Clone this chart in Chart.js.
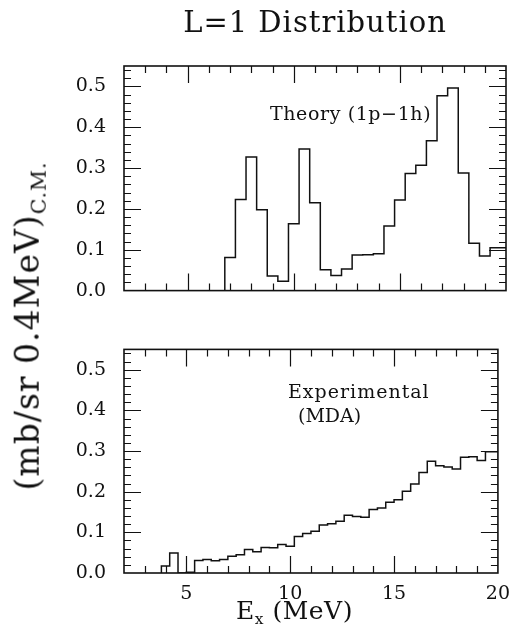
<!DOCTYPE html>
<html>
<head>
<meta charset="utf-8">
<script src="https://cdn.jsdelivr.net/npm/chart.js@4.4.0/dist/chart.umd.min.js"></script>
<style>
  body { margin: 0; background: #fff; }
  #wrap { position: relative; width: 520px; height: 630px; font-family: "DejaVu Serif", serif; color: #111; }
  .panel { position: absolute; left: 0; width: 520px; }
  .lbl { position: absolute; white-space: nowrap; line-height: 1; }
  #title { left: 0; width: 630px; text-align: center; top: 8px; font-size: 29px; letter-spacing: 1px; }
  #ytitle { left: 30px; top: 326px; font-size: 33px; letter-spacing: 1px; transform: translate(-50%, -50%) rotate(-90deg); }
  #xtitle { left: 236px; top: 598px; font-size: 25px; letter-spacing: 0.5px; }
  sub { font-size: 62%; vertical-align: -0.35em; }
  .note { font-size: 19px; }
</style>
</head>
<body>
<div id="wrap">
  <div class="panel" style="top:0;height:320px"><canvas id="theoryChart" width="520" height="320"></canvas></div>
  <div class="panel" style="top:320px;height:310px"><canvas id="expChart" width="520" height="310"></canvas></div>
  <div class="lbl" id="title">L=1 Distribution</div>
  <div class="lbl" id="ytitle">(mb/sr 0.4MeV)<sub>C.M.</sub></div>
  <div class="lbl" id="xtitle">E<sub>x</sub> (MeV)</div>
  <div class="lbl note" style="left:270px;top:104px;letter-spacing:0.6px">Theory (1p&minus;1h)</div>
  <div class="lbl note" style="left:288px;top:382px;letter-spacing:1px">Experimental</div>
  <div class="lbl note" style="left:298px;top:406px">(MDA)</div>
</div>
<script>
// theory: 0.5 MeV bins, listed by bin centre
const theoryWidth = 0.5;
const theoryCenters = [7.0, 7.5, 8.0, 8.5, 9.0, 9.5, 10.0, 10.5, 11.0, 11.5, 12.0, 12.5, 13.0, 13.5,
  14.0, 14.5, 15.0, 15.5, 16.0, 16.5, 17.0, 17.5, 18.0, 18.5, 19.0, 19.5, 20.0];
const theoryValues = [0.012, 0.081, 0.223, 0.327, 0.198, 0.036, 0.023, 0.164, 0.347, 0.215, 0.051, 0.037, 0.053, 0.087,
  0.088, 0.090, 0.158, 0.222, 0.287, 0.307, 0.367, 0.477, 0.496, 0.288, 0.116, 0.085, 0.105];

// experiment (MDA): 0.4 MeV bins
const expWidth = 0.4;
const expCenters = [4.0, 4.4, 4.8, 5.2, 5.6, 6.0, 6.4, 6.8, 7.2, 7.6, 8.0, 8.4, 8.8, 9.2, 9.6, 10.0, 10.4,
  10.8, 11.2, 11.6, 12.0, 12.4, 12.8, 13.2, 13.6, 14.0, 14.4, 14.8, 15.2, 15.6, 16.0, 16.4, 16.8,
  17.2, 17.6, 18.0, 18.4, 18.8, 19.2, 19.6, 20.0];
const expValues = [0.004, 0.017, 0.049, 0.0, 0.002, 0.031, 0.033, 0.030, 0.033, 0.041, 0.045, 0.058, 0.052, 0.063, 0.062, 0.070, 0.066,
  0.090, 0.097, 0.103, 0.118, 0.121, 0.127, 0.142, 0.139, 0.137, 0.156, 0.160, 0.174, 0.180, 0.201, 0.219, 0.247,
  0.275, 0.264, 0.261, 0.256, 0.285, 0.286, 0.277, 0.298];

const xTicks = [5, 10, 15, 20];
const yTicks = [0.0, 0.1, 0.2, 0.3, 0.4, 0.5];

// turn bin centres + heights into step points (left edges, closing right edge)
function stepPoints(centers, values, width) {
  const pts = [{ x: centers[0] - width / 2, y: 0 }];
  centers.forEach((c, i) => pts.push({ x: c - width / 2, y: values[i] }));
  const last = centers.length - 1;
  pts.push({ x: centers[last] + width / 2, y: values[last] });
  return pts;
}

// box frame with inward ticks on all four sides
const frameTicks = {
  id: 'frameTicks',
  afterDatasetsDraw(chart) {
    const { ctx, chartArea: a, scales: { x, y } } = chart;
    ctx.save();
    ctx.strokeStyle = '#111';
    ctx.lineWidth = 1.6;
    ctx.strokeRect(a.left, a.top, a.right - a.left, a.bottom - a.top);
    ctx.lineWidth = 1.2;
    ctx.beginPath();
    for (let v = Math.floor(x.min) + 1; v < x.max; v++) {
      const px = Math.round(x.getPixelForValue(v)) + 0.5;
      const len = v % 5 === 0 ? 17 : 7;
      ctx.moveTo(px, a.bottom); ctx.lineTo(px, a.bottom - len);
      ctx.moveTo(px, a.top); ctx.lineTo(px, a.top + len);
    }
    for (let k = 1; k * 0.02 < y.max - 0.001; k++) {
      const py = Math.round(y.getPixelForValue(k * 0.02)) + 0.5;
      const len = k % 5 === 0 ? 17 : 7;
      ctx.moveTo(a.left, py); ctx.lineTo(a.left + len, py);
      ctx.moveTo(a.right, py); ctx.lineTo(a.right - len, py);
    }
    ctx.stroke();
    ctx.restore();
  }
};

function makePanel(id, centers, values, width, showX, padding) {
  return new Chart(document.getElementById(id), {
    type: 'line',
    data: {
      datasets: [{
        data: stepPoints(centers, values, width),
        stepped: 'after',
        borderColor: '#111',
        borderWidth: 1.5,
        pointRadius: 0,
        fill: false
      }]
    },
    options: {
      responsive: false,
      animation: false,
      layout: { padding: padding },
      plugins: { legend: { display: false }, tooltip: { enabled: false }, title: { display: false } },
      scales: {
        x: {
          type: 'linear', min: 2, max: 20,
          grid: { display: false, drawTicks: false },
          border: { display: false },
          afterBuildTicks: s => { s.ticks = xTicks.map(v => ({ value: v })); },
          afterFit: s => { s.height = showX ? 30 : 0; },
          ticks: {
            display: showX, padding: 10, color: '#111', maxRotation: 0,
            font: { family: 'DejaVu Serif', size: 19 }
          }
        },
        y: {
          min: 0, max: 0.55,
          grid: { display: false, drawTicks: false },
          border: { display: false },
          afterBuildTicks: s => { s.ticks = yTicks.map(v => ({ value: v })); },
          afterFit: s => { s.width = 70; },
          ticks: {
            padding: 18, color: '#111',
            font: { family: 'DejaVu Serif', size: 19 },
            callback: v => v.toFixed(1)
          }
        }
      }
    },
    plugins: [frameTicks]
  });
}

makePanel('theoryChart', theoryCenters, theoryValues, theoryWidth, false,
  { left: 54, right: 14, top: 66, bottom: 10 });
makePanel('expChart', expCenters, expValues, expWidth, true,
  { left: 54, right: 14, top: 8, bottom: 27 });
</script>
</body>
</html>
